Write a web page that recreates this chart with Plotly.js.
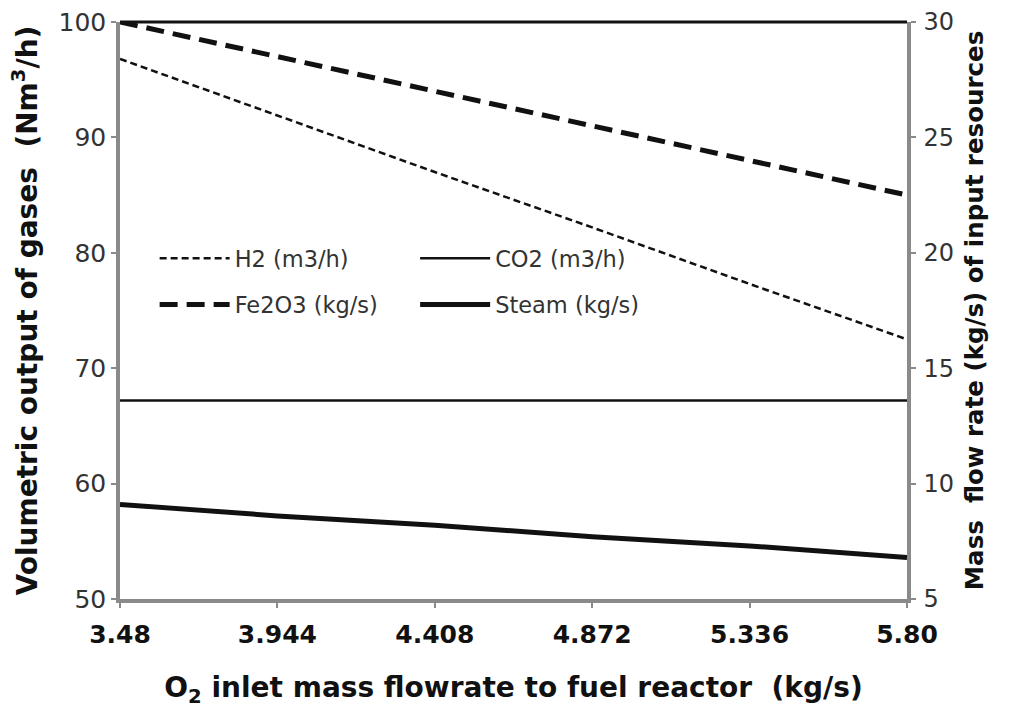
<!DOCTYPE html>
<html>
<head>
<meta charset="utf-8">
<script src="https://cdn.plot.ly/plotly-3.0.1.min.js"></script>
<style>html,body{margin:0;padding:0;background:#fff;}#chart{width:1014px;height:709px;}</style>
</head>
<body>
<div id="chart"></div>
<script>
const xVals = [3.48, 3.944, 4.408, 4.872, 5.336, 5.80];
const xTickText = ["3.48", "3.944", "4.408", "4.872", "5.336", "5.80"];
const h2 = [96.8, 91.9, 87.0, 82.2, 77.3, 72.5];
const co2 = [67.2, 67.2, 67.2, 67.2, 67.2, 67.2];
const fe2o3 = [30.0, 28.5, 27.0, 25.5, 24.0, 22.5];
const steam = [9.1, 8.6, 8.2, 7.7, 7.3, 6.8];

const FONT = "DejaVu Sans, Liberation Sans, Arial, sans-serif";

const traces = [
  {x: xVals, y: h2, name: "H2 (m3/h)", mode: "lines", line: {color: "#111", width: 2.5, dash: "7px,4px"}, legend: "legend", legendgroup: "a"},
  {x: xVals, y: fe2o3, name: "Fe2O3 (kg/s)", mode: "lines", yaxis: "y2", line: {color: "#111", width: 5, dash: "18px,9px"}, legend: "legend", legendgroup: "b"},
  {x: xVals, y: co2, name: "CO2 (m3/h)", mode: "lines", line: {color: "#111", width: 2.5}, legend: "legend2", legendgroup: "c"},
  {x: xVals, y: steam, name: "Steam (kg/s)", mode: "lines", yaxis: "y2", line: {color: "#111", width: 5}, legend: "legend2", legendgroup: "d"}
];

const legendCommon = {
  font: {family: FONT, size: 22.5, color: "#333"},
  bgcolor: "rgba(0,0,0,0)", tracegroupgap: 14, itemwidth: 70,
  xanchor: "left", yanchor: "top"
};

const layout = {
  width: 1014, height: 709,
  margin: {l: 120, r: 107, t: 22, b: 110},
  paper_bgcolor: "#fff", plot_bgcolor: "#fff",
  font: {family: FONT, color: "#333"},
  showlegend: true,
  legend: Object.assign({x: 0.044, y: 0.627}, legendCommon),
  legend2: Object.assign({x: 0.375, y: 0.627}, legendCommon),
  xaxis: {
    range: [3.48, 5.80], tickvals: xVals, ticktext: xTickText,
    showgrid: false, zeroline: false, showline: true, linecolor: "#8a8a8a", linewidth: 3.5,
    ticks: "outside", ticklen: 5, tickwidth: 2, tickcolor: "#8a8a8a", ticklabelstandoff: 5,
    tickfont: {size: 25, color: "#111", family: FONT, weight: "bold"},
    title: {text: "O<sub>2</sub> inlet mass flowrate to fuel reactor  (kg/s)", standoff: 31,
      font: {size: 28, color: "#111", family: FONT, weight: "bold"}}
  },
  yaxis: {
    range: [50, 100], dtick: 10,
    showgrid: false, zeroline: false, showline: true, linecolor: "#8a8a8a", linewidth: 3.5,
    ticks: "outside", ticklen: 5, tickwidth: 2, tickcolor: "#8a8a8a",
    tickfont: {size: 25, color: "#333", family: FONT},
    title: {text: "Volumetric output of gases  (Nm<sup>3</sup>/h)", standoff: 14,
      font: {size: 28, color: "#111", family: FONT, weight: "bold"}}
  },
  yaxis2: {
    range: [5, 30], dtick: 5, overlaying: "y", side: "right",
    showgrid: false, zeroline: false, showline: true, linecolor: "#8a8a8a", linewidth: 3.5,
    ticks: "outside", ticklen: 5, tickwidth: 2, tickcolor: "#8a8a8a", ticklabelstandoff: 3,
    tickfont: {size: 24, color: "#333", family: FONT},
    title: {text: "Mass  flow rate (kg/s) of input resources", standoff: 14,
      font: {size: 24.5, color: "#111", family: FONT, weight: "bold"}}
  },
  shapes: [
    {type: "line", xref: "paper", yref: "paper", x0: 0, x1: 1, y0: 1, y1: 1, line: {color: "#111", width: 3}}
  ]
};

Plotly.newPlot("chart", traces, layout, {displayModeBar: false});
</script>
</body>
</html>
